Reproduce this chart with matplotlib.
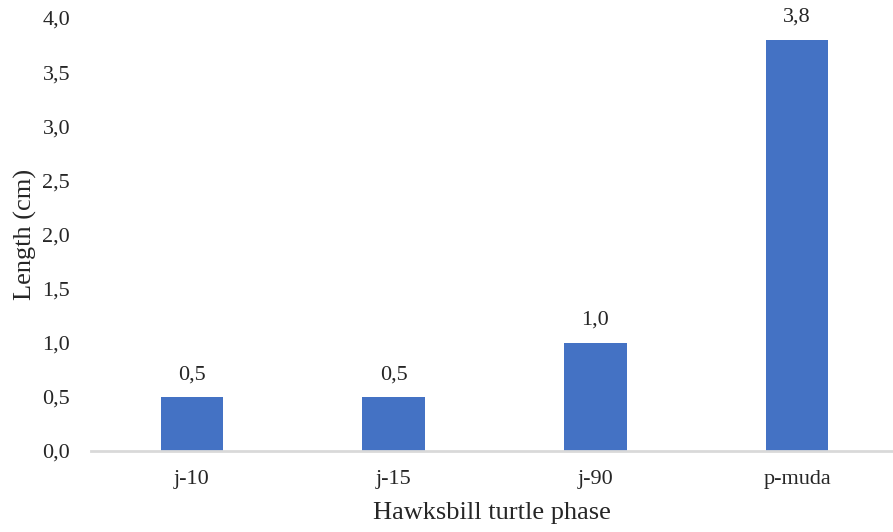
import matplotlib
matplotlib.use("Agg")
import matplotlib.pyplot as plt
from matplotlib.ticker import FuncFormatter

phases = ["j-10", "j-15", "j-90", "p-muda"]
lengths = [0.5, 0.5, 1.0, 3.8]
y_ticks = [0.0, 0.5, 1.0, 1.5, 2.0, 2.5, 3.0, 3.5, 4.0]

plt.rcParams["font.family"] = ["Liberation Serif", "DejaVu Serif"]

fig = plt.figure(figsize=(8.93, 5.32), dpi=100)
ax = fig.add_axes([91 / 893, 81 / 532, 802 / 893, 433 / 532])

x = range(len(phases))
bars = ax.bar(x, lengths, width=0.31, color="#4472C4", zorder=2)

def comma(v, pos=None):
    return f"{v:.1f}".replace(".", ",")

for rect, val in zip(bars, lengths):
    ax.annotate(comma(val), (rect.get_x() + rect.get_width() / 2, val),
                xytext=(0, 16), textcoords="offset points",
                ha="center", va="center", fontsize=16, color="#262626")

ax.set_xlim(-0.5, 3.475)
ax.set_ylim(0, 4.0)
ax.set_yticks(y_ticks)
ax.yaxis.set_major_formatter(FuncFormatter(comma))
ax.set_xticks(list(x))
ax.set_xticklabels(phases)

for s in ["top", "right", "left"]:
    ax.spines[s].set_visible(False)
ax.spines["bottom"].set_color("#d9d9d9")
ax.spines["bottom"].set_linewidth(2)
ax.tick_params(axis="both", length=0, labelsize=16, colors="#262626")
ax.tick_params(axis="y", pad=15)
ax.tick_params(axis="x", pad=14)

ax.set_xlabel("Hawksbill turtle phase", fontsize=19, color="#262626", labelpad=9)
ax.set_ylabel("Length (cm)", fontsize=19, color="#262626", labelpad=4)

fig.savefig("out.png", dpi=100, facecolor="white")
